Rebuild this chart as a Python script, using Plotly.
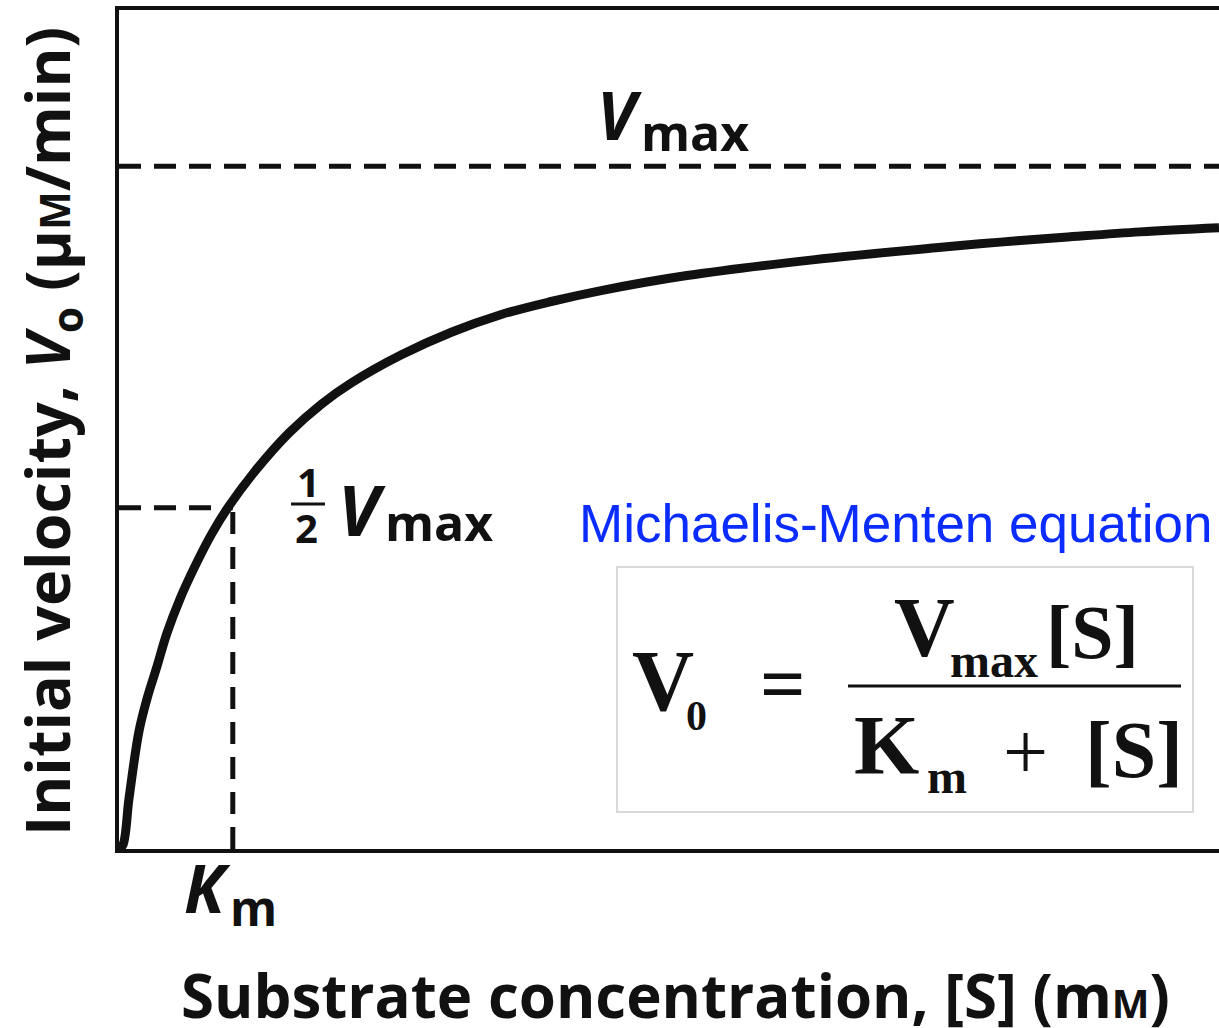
import plotly.graph_objects as go

# Michaelis-Menten saturation curve, in units of Km (x) and Vmax (y)
substrate = [0.0, 0.035, 0.088, 0.175, 0.246, 0.333, 0.421, 0.535, 0.667, 0.816,
             0.965, 1.193, 1.491, 1.781, 2.044, 2.482, 2.921, 3.360, 3.798, 4.237,
             4.991, 6.096, 7.202, 7.746, 8.307, 8.974, 9.667]
velocity = [0.0, 0.006, 0.074, 0.172, 0.220, 0.267, 0.316, 0.366, 0.414, 0.462,
            0.502, 0.553, 0.609, 0.652, 0.683, 0.724, 0.757, 0.783, 0.802, 0.818,
            0.840, 0.863, 0.881, 0.889, 0.896, 0.904, 0.910]

km = 1.0
vmax = 1.0
half_vmax = 0.5
x_max = 9.667
y_max = 1.229

W, H = 1219, 1028
PL, PR, PT, PB = 119, 1219, 10, 849   # plot-area edges in page pixels


def px(x):
    return (x - PL) / (PR - PL)


def py(y):
    return (PB - y) / (PB - PT)


SANS = "Open Sans"
SERIF = "Liberation Serif"
BLACK = "#111111"

fig = go.Figure()

# guide lines
dash = "22px,13px"
guide = dict(color=BLACK, width=5, dash=dash)
fig.add_trace(go.Scatter(x=[0, x_max], y=[vmax, vmax], mode="lines",
                         line=guide, hoverinfo="skip"))
fig.add_trace(go.Scatter(x=[0, km], y=[half_vmax, half_vmax], mode="lines",
                         line=guide, hoverinfo="skip"))
fig.add_trace(go.Scatter(x=[km, km], y=[0, half_vmax], mode="lines",
                         line=guide, hoverinfo="skip"))

# saturation curve
fig.add_trace(go.Scatter(x=substrate, y=velocity, mode="lines",
                         line=dict(color=BLACK, width=9, shape="spline", smoothing=1.0),
                         hoverinfo="skip"))

ann = []


def label(text, left, cy, size, family=SANS, color=BLACK, weight="bold", anchor="left"):
    ann.append(dict(text=text, x=px(left), y=py(cy), xref="paper", yref="paper",
                    xanchor=anchor, yanchor="middle", showarrow=False,
                    font=dict(family=family, size=size, color=color, weight=weight)))


# Vmax label above the dashed line
label("<i>V</i>", 595, 114, 66)
label("max", 639, 132, 50)

# 1/2 Vmax label
label("1", 295, 481, 40)
label("2", 293, 527, 40)
label("<i>V</i>", 336, 509, 70)
label("max", 383, 522, 50)

# Km label under the axis
label("<i>K</i>", 182, 887, 66)
label("m", 228, 907, 48)

# axis titles
label("Substrate concentration, [S] (m<span style='font-size:40px'>M</span>)",
      675, 995, 60, anchor="center")
ann.append(dict(text="Initial velocity, <i>V</i><sub>o</sub> (μ<span style='font-size:41px'>M</span>/min)",
                x=px(50), y=py(432), xref="paper", yref="paper", xanchor="center",
                yanchor="middle", textangle=-90, showarrow=False,
                font=dict(family=SANS, size=61, color=BLACK, weight="bold")))

# equation caption and formula
label("Michaelis-Menten equation", 577, 523, 53, family="Liberation Sans",
      color="#0a2cff", weight="normal")

label("V", 630, 681, 86, family=SERIF)
label("0", 684, 716, 42, family=SERIF)
label("=", 758, 684, 80, family=SERIF)
label("V", 892, 627, 84, family=SERIF)
label("max", 948, 660, 48, family=SERIF)
label("[S]", 1044, 632, 76, family=SERIF)
label("K", 852, 745, 84, family=SERIF)
label("m", 925, 776, 48, family=SERIF)
label("+", 1001, 752, 80, family=SERIF, weight="normal")
label("[S]", 1083, 750, 80, family=SERIF)

shapes = [
    dict(type="rect", xref="paper", yref="paper", x0=px(617), x1=px(1193),
         y0=py(812), y1=py(567), line=dict(color="#d9d9d9", width=2), layer="above"),
    # fraction bar of the equation
    dict(type="line", xref="paper", yref="paper", x0=px(848), x1=px(1181),
         y0=py(686), y1=py(686), line=dict(color=BLACK, width=3)),
    # fraction bar of the 1/2 Vmax label
    dict(type="line", xref="paper", yref="paper", x0=px(291), x1=px(325),
         y0=py(504), y1=py(504), line=dict(color=BLACK, width=3)),
]

fig.update_layout(
    width=W, height=H,
    margin=dict(l=PL, r=W - PR, t=PT, b=H - PB),
    paper_bgcolor="white", plot_bgcolor="white",
    showlegend=False,
    annotations=ann, shapes=shapes,
    xaxis=dict(range=[0, x_max], showline=True, linecolor=BLACK, linewidth=4,
               mirror=True, showgrid=False, zeroline=False, showticklabels=False,
               ticks=""),
    yaxis=dict(range=[0, y_max], showline=True, linecolor=BLACK, linewidth=4,
               mirror=False, showgrid=False, zeroline=False, showticklabels=False,
               ticks=""),
)

fig.write_html("out.html")
